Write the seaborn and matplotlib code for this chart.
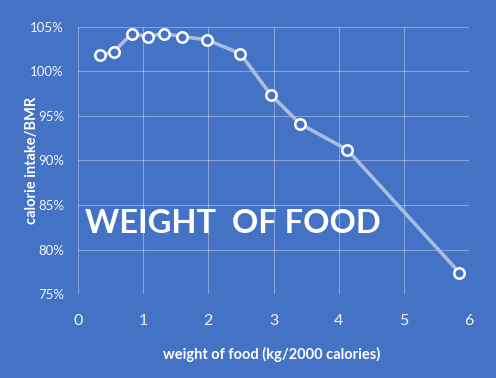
import numpy as np
import pandas as pd
import matplotlib
matplotlib.use('Agg')
import matplotlib.pyplot as plt
import seaborn as sns
from matplotlib.ticker import PercentFormatter

# values
weight_kg = [0.34, 0.55, 0.83, 1.07, 1.32, 1.60, 1.98, 2.49, 2.96, 3.41, 4.13, 5.85]
intake_pct = [101.8, 102.2, 104.25, 103.9, 104.25, 103.9, 103.55, 102.0, 97.35, 94.1, 91.2, 77.4]
x_ticks = [0, 1, 2, 3, 4, 5, 6]
y_ticks = [75, 80, 85, 90, 95, 100, 105]

bg = '#4472C4'
txt = '#F2F5FB'

sns.set_style('dark')
plt.rcParams['font.family'] = ['Lato', 'DejaVu Sans']

df = pd.DataFrame({'weight': weight_kg, 'intake': intake_pct})

fig = plt.figure(figsize=(4.96, 3.78), dpi=100, facecolor=bg)
ax = fig.add_axes([0.157, 0.222, 0.789, 0.707])
ax.set_facecolor(bg)

sns.lineplot(data=df, x='weight', y='intake', ax=ax, color='#A9BDE3', linewidth=2.6,
             marker='o', markersize=7.5, markerfacecolor=bg, markeredgecolor='white',
             markeredgewidth=1.8, zorder=3)

ax.set_xlim(0, 6)
ax.set_ylim(75, 105)
ax.set_xticks(x_ticks)
ax.set_yticks(y_ticks)
ax.yaxis.set_major_formatter(PercentFormatter(decimals=0))
ax.grid(True, color='white', alpha=0.35, linewidth=0.8)
for s in ax.spines.values():
    s.set_visible(False)
ax.tick_params(axis='x', length=0, pad=14, labelsize=11.5, labelcolor=txt)
ax.tick_params(axis='y', length=0, pad=10, labelsize=9.5, labelcolor=txt)

ax.set_xlabel('weight of food (kg/2000 calories)', fontsize=10.5, fontweight='bold',
              color='white', va='center')
ax.set_ylabel('calorie intake/BMR', fontsize=10.5, fontweight='bold', color='white',
              va='center')
ax.xaxis.set_label_coords(0.496, -0.225)
ax.yaxis.set_label_coords(-0.118, 0.5)

ax.text(0.018, 0.265, 'WEIGHT  OF FOOD', transform=ax.transAxes, fontsize=23.5,
        fontweight='bold', color='white', va='center', ha='left')

fig.savefig('out.png', dpi=100, facecolor=bg)
